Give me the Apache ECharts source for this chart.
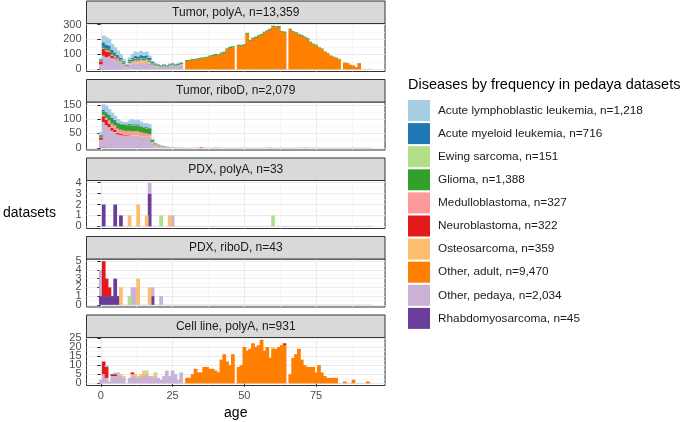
<!DOCTYPE html>
<html>
<head>
<meta charset="utf-8">
<script src="https://cdn.jsdelivr.net/npm/echarts@6/dist/echarts.min.js"></script>
<style>html,body{margin:0;padding:0;background:#fff}#c{width:685px;height:422px}</style>
</head>
<body>
<div id="c"></div>
<script>
// ---------- categories ----------
const ageBins = [0,1,2,3,4,5,6,7,8,9,10,11,12,13,14,15,16,17,18,19,20,21,22,23,24,25,26,27,28,29,
  30,31,32,33,34,35,36,37,38,39,40,41,42,43,44,45,46,47,48,49,50,51,52,53,54,55,56,57,58,59,
  60,61,62,63,64,65,66,67,68,69,70,71,72,73,74,75,76,77,78,79,80,81,82,83,84,85,86,87,88,89,
  90,91,92,93,94];
const xTicks = [0, 25, 50, 75];
const panelTitles = ['Tumor, polyA, n=13,359','Tumor, riboD, n=2,079','PDX, polyA, n=33','PDX, riboD, n=43','Cell line, polyA, n=931'];
const yIntervals = [100, 50, 1, 1, 5];
const legendLabels = ['Acute lymphoblastic leukemia, n=1,218','Acute myeloid leukemia, n=716','Ewing sarcoma, n=151',
  'Glioma, n=1,388','Medulloblastoma, n=327','Neuroblastoma, n=322','Osteosarcoma, n=359',
  'Other, adult, n=9,470','Other, pedaya, n=2,034','Rhabdomyosarcoma, n=45'];
const diseaseColors = ['#A6CEE3','#1F78B4','#B2DF8A','#33A02C','#FB9A99','#E31A1C','#FDBF6F','#FF7F00','#CAB2D6','#6A3D9A'];

// ---------- Tumor, polyA (counts per age bin, from age 0) ----------
const tumorPolyA_ALL = [8,45,50,45,40,35,30,25,15,6, 18,25,30,28,30,25,25,15,8,4, 3,2,2,2,2,2,2,2,2];
const tumorPolyA_AML = [8,30,25,22,20,15,12,10,8,4, 8,12,15,15,18,16,16,14,8,6, 4,3,3,3,3,3,3,3,3,0,
  0,0,0,0,0,0,0,0,0,0, 1,1,1,1,1,1,1,0,1,1, 1,1,1,1,1,1,1,1,1,1, 1,1,1,1,1,0,1,1,1,1, 1,1,1,1,1,1];
const tumorPolyA_EW  = [0,0,0,0,0,0,0,1,1,1, 2,2,3,3,3,3,3,3,2,2, 1,1,1,1,1,1,0,0,0];
const tumorPolyA_GLI = [4,10,12,12,12,10,10,10,8,5, 8,10,10,10,10,10,10,10,8,6, 6,5,6,5,6,6,6,6,6,0,
  6,6,6,6,6,6,6,6,6,6, 6,6,6,6,6,6,6,0,6,6, 6,6,6,6,6,6,6,6,6,6, 6,6,6,6,6,0,5,5,5,5,
  5,5,5,5,5,5,3,3,3,3, 3,3,3,3,0,1,1,1,1,1, 1];
const tumorPolyA_MED = [2,5,8,10,8,8,7,6,5,3, 5,6,6,5,5,4,4,3,2,1, 1,1,1,0,1,1,0,1,1];
const tumorPolyA_NEU = [20,45,38,25,15,8,5,3,2,1, 1,1,1,1,1];
const tumorPolyA_OST = [0,0,0,0,0,1,2,2,3,3, 5,8,10,12,14,14,12,10,6,4, 3,2,2,2,2,2,1,1,1];
const tumorPolyA_ADU = [0,0,0,0,0,0,0,0,0,0, 0,0,0,0,0,0,0,0,0,0, 0,0,0,0,0,0,0,0,0,0,
  56,58,62,64,68,72,74,78,86,90, 96,93,105,111,133,143,148,0,158,155,
  161,237,188,205,211,221,229,245,255,265, 285,281,283,248,245,0,266,249,242,232,
  224,214,204,179,166,159,147,137,117,107, 89,82,75,67,0,44,41,29,24,14, 41];
const tumorPolyA_OPD = [32,90,81,89,74,70,58,45,27,13, 33,39,44,40,44,42,49,37,24,20, 18,15,21,16,23,28,24,27,34];
const tumorPolyA_RHB = [1,1,1,1,1,1,1,1];

// ---------- Tumor, riboD ----------
const tumorRiboD_ALL = [10,20,22,20,18,15,12,10,8,8, 12,18,14,16,14,12,14,12,4,2, 1,1];
const tumorRiboD_AML = [2,5,5,4,4,3,3,3,2,2, 3,3,3,3,3,3,3,3,1,1];
const tumorRiboD_EW  = [0,0,0,0,0,0,0,0,0,1, 1,1,1,1,1,1,1,1];
const tumorRiboD_GLI = [5,12,14,15,16,16,18,18,20,20, 20,20,20,20,20,18,18,18,6,3, 2,2,1,1];
const tumorRiboD_MED = [2,5,8,12,14,15,15,15,14,14, 13,12,12,12,10,10,9,8,4,2, 2,1,1,0,0,1];
const tumorRiboD_NEU = [8,20,18,12,10,8,5,4,3,2, 2,1,1,1,1,1];
const tumorRiboD_OST = [0,0,0,0,0,1,1,1,2,2, 3,3,3,3,3,3,3,3,2,1, 1,1];
const tumorRiboD_ADU = [0,0,0,0,0,0,0,0,0,0, 0,0,0,0,0,0,0,0,0,0, 0,0,0,0,0,0,0,0,0,0,
  0,0,0,0,0,3,0,0,0,0, 1,0,0,0,0,0,0,0,0,0, 0,0,0,0,0,0,0,0,0,1, 0,0,0,0,0,0,0,0,0,0, 0,1];
const tumorRiboD_OPD = [27,88,78,71,59,53,45,42,40,40, 40,41,41,41,39,37,37,36,15,9, 6,4,4,3,3,1,1,1,1];
const tumorRiboD_RHB = [1,2,1,1,1,1,1,1,1,1, 1,1,1,1,1,1,1,1];

// ---------- PDX, polyA ----------
const pdxPolyA_ALL = [];
const pdxPolyA_AML = [];
const pdxPolyA_EW  = [0,0,0,0,0,0,0,0,0,0, 0,0,0,0,0,0,0,0,0,0, 0,1,0,0,0,0,0,0,0,0,
  0,0,0,0,0,0,0,0,0,0, 0,0,0,0,0,0,0,0,0,0, 0,0,0,0,0,0,0,0,0,0, 1];
const pdxPolyA_GLI = [];
const pdxPolyA_MED = [];
const pdxPolyA_NEU = [];
const pdxPolyA_OST = [0,0,0,0,0,0,0,0,0,0, 1,0,0,2,0,0,1,0,0,0, 0,0,0,0,1];
const pdxPolyA_ADU = [];
const pdxPolyA_OPD = [0,0,0,0,0,0,0,0,0,0, 0,0,0,0,0,0,0,1,0,0, 0,0,0,0,0,1];
const pdxPolyA_RHB = [0,2,0,0,0,2,0,1,0,0, 0,0,0,0,0,0,0,3];

// ---------- PDX, riboD ----------
const pdxRiboD_ALL = [];
const pdxRiboD_AML = [];
const pdxRiboD_EW  = [0,0,0,0,0,0,0,0,0,0, 1];
const pdxRiboD_GLI = [];
const pdxRiboD_MED = [];
const pdxRiboD_NEU = [0,4,2,1];
const pdxRiboD_OST = [0,0,0,0,0,0,0,2,0,0, 0,0,0,3,0,0,0,2];
const pdxRiboD_ADU = [];
const pdxRiboD_OPD = [3,0,0,0,0,0,0,0,0,0, 0,2,2,0,0,0,0,0,1,0, 0,1];
const pdxRiboD_RHB = [1,1,1,1,1,3,1,0,0,0, 0,0,0,0,0,0,0,0,1];

// ---------- Cell line, polyA ----------
const cellPolyA_ALL = [0,0,1,0,0,1,1];
const cellPolyA_AML = [];
const cellPolyA_EW  = [0,0,0,0,0,0,0,0,0,0, 0,0,0,0,0,1,1,0,0,1, 0,0,0,0,0,0,0,0,0,0,
  0,0,0,0,0,0,0,0,0,0, 0,0,0,0,0,0,0,0,0,0, 0,0,0,0,0,0,0,0,0,0, 1];
const cellPolyA_GLI = [];
const cellPolyA_MED = [];
const cellPolyA_NEU = [0,7,6,0,1,1,0,0,0,0, 0,1,0,0,0,0,0,0,0,0, 0,0,0,0,0,0,0,0,0,0,
  0,0,0,0,0,0,0,0,0,0, 0,0,0,0,0,0,0,0,0,0, 0,0,0,0,0,0,0,0,0,0, 0,0,0,0,1];
const cellPolyA_OST = [0,0,0,0,0,0,0,1,1,0, 0,1,1,1,1,2,1,0,1,1];
const cellPolyA_ADU = [0,0,0,0,0,0,0,0,0,0, 0,0,0,0,0,0,0,0,0,0, 0,0,0,0,0,0,0,0,0,0,
  3,3,5,8,6,6,9,9,8,8, 7,6,13,16,12,10,16,0,9,10, 20,18,19,22,20,21,24,18,20,14,
  19,19,20,21,21,0,5,14,16,19, 13,10,9,9,9,6,10,6,4,3, 3,3,3,0,0,1,0,0,2,0, 0,0,0,1];
const cellPolyA_OPD = [2,5,3,1,4,4,5,4,3,0, 3,4,4,3,4,4,5,4,3,4, 3,2,4,7,4,7,5,2,6,0];
const cellPolyA_RHB = [];

// ---------- build ----------
const panelData = [
  [tumorPolyA_ALL,tumorPolyA_AML,tumorPolyA_EW,tumorPolyA_GLI,tumorPolyA_MED,tumorPolyA_NEU,tumorPolyA_OST,tumorPolyA_ADU,tumorPolyA_OPD,tumorPolyA_RHB],
  [tumorRiboD_ALL,tumorRiboD_AML,tumorRiboD_EW,tumorRiboD_GLI,tumorRiboD_MED,tumorRiboD_NEU,tumorRiboD_OST,tumorRiboD_ADU,tumorRiboD_OPD,tumorRiboD_RHB],
  [pdxPolyA_ALL,pdxPolyA_AML,pdxPolyA_EW,pdxPolyA_GLI,pdxPolyA_MED,pdxPolyA_NEU,pdxPolyA_OST,pdxPolyA_ADU,pdxPolyA_OPD,pdxPolyA_RHB],
  [pdxRiboD_ALL,pdxRiboD_AML,pdxRiboD_EW,pdxRiboD_GLI,pdxRiboD_MED,pdxRiboD_NEU,pdxRiboD_OST,pdxRiboD_ADU,pdxRiboD_OPD,pdxRiboD_RHB],
  [cellPolyA_ALL,cellPolyA_AML,cellPolyA_EW,cellPolyA_GLI,cellPolyA_MED,cellPolyA_NEU,cellPolyA_OST,cellPolyA_ADU,cellPolyA_OPD,cellPolyA_RHB]
];

const FONT = '"Liberation Sans", Arial, Helvetica, sans-serif';
const pad = arr => ageBins.map((a, i) => (arr[i] || 0));

const L = { gridLeft: 86.5, gridWidth: 298.5, stripTop0: 1, step: 78.5, stripH: 22.5, gridH: 48, xMin: -5, xMax: 99 };
const binPx = L.gridWidth / (L.xMax - L.xMin); // one age bin in pixels

const grids = [], xAxes = [], yAxes = [], series = [], graphics = [];

const yLabelStyle = { show: true, margin: 5, fontSize: 11, color: '#4D4D4D', fontFamily: FONT,
  showMinLabel: true, showMaxLabel: true, hideOverlap: false };

panelData.forEach((arrs, k) => {
  const padded = arrs.map(pad);
  const totals = ageBins.map((a, i) => padded.reduce((s, v) => s + v[i], 0));
  const ymax = Math.max.apply(null, totals);
  const iv = yIntervals[k];
  const yTicks = [];
  for (let t = 0; t <= ymax * 1.05 + 1e-9; t += iv) yTicks.push(t);
  const evenTicks = yTicks.filter((t, i) => i % 2 === 0);
  const oddTicks = yTicks.filter((t, i) => i % 2 === 1);
  const stripTop = L.stripTop0 + L.step * k;
  const gTop = stripTop + L.stripH;
  const yMin = -0.05 * ymax, yMax = 1.05 * ymax;
  const fmt = v => (Math.abs(v / iv - Math.round(v / iv)) < 1e-6 ? String(Math.round(v)) : '');

  grids.push({ left: L.gridLeft, top: gTop, width: L.gridWidth, height: L.gridH,
    show: true, backgroundColor: '#ffffff', borderColor: '#333333', borderWidth: 1, containLabel: false });

  const isBottom = k === panelData.length - 1;
  xAxes.push({
    type: 'value', gridIndex: k, min: L.xMin, max: L.xMax, minInterval: 25, maxInterval: 25, splitNumber: 4,
    axisLine: { show: false },
    axisTick: { show: isBottom, length: 3.5, customValues: xTicks, lineStyle: { color: '#333333', width: 1 } },
    axisLabel: { show: isBottom, customValues: xTicks, margin: 5, fontSize: 11, color: '#4D4D4D', fontFamily: FONT,
      showMinLabel: true, showMaxLabel: true, hideOverlap: false,
      formatter: v => (xTicks.indexOf(v) >= 0 ? String(v) : '') },
    splitLine: { show: true, lineStyle: { color: '#EBEBEB', width: 1 } },
    minorTick: { show: false, splitNumber: 2 },
    minorSplitLine: { show: true, lineStyle: { color: '#F2F2F2', width: 0.6 } }
  });
  // main y axis: ticks, grid lines, labels at even tick positions
  yAxes.push({
    type: 'value', gridIndex: k, min: yMin, max: yMax, minInterval: iv, maxInterval: iv, splitNumber: 4,
    axisLine: { show: false },
    axisTick: { show: true, length: 3.5, customValues: yTicks, lineStyle: { color: '#333333', width: 1 } },
    axisLabel: Object.assign({}, yLabelStyle, { customValues: evenTicks, formatter: fmt }),
    splitLine: { show: true, lineStyle: { color: '#EBEBEB', width: 1 } },
    minorTick: { show: false, splitNumber: 2 },
    minorSplitLine: { show: true, lineStyle: { color: '#F2F2F2', width: 0.6 } }
  });
  // companion y axis (same scale) carrying the odd tick labels so none get dropped
  yAxes.push({
    type: 'value', gridIndex: k, min: yMin, max: yMax, minInterval: iv, maxInterval: iv, splitNumber: 4,
    position: 'left', offset: 0,
    axisLine: { show: false }, axisTick: { show: false },
    axisLabel: Object.assign({}, yLabelStyle, { customValues: oddTicks.length ? oddTicks : [yMax * 2], formatter: fmt }),
    splitLine: { show: false }, minorSplitLine: { show: false }
  });

  // faint zero-height baseline across the binned age range
  series.push({ type: 'line', xAxisIndex: k, yAxisIndex: 2 * k, silent: true, symbol: 'none', z: 1,
    lineStyle: { color: '#DCD3DB', width: 0.8 },
    data: [[ageBins[0] - 0.5, 0], [ageBins[ageBins.length - 1] + 0.5, 0]] });

  for (let d = padded.length - 1; d >= 0; d--) {
    series.push({
      type: 'bar', name: legendLabels[d], xAxisIndex: k, yAxisIndex: 2 * k, stack: 'p' + k,
      barWidth: binPx * 1.3, barGap: 0, barCategoryGap: 0, silent: true,
      itemStyle: { color: diseaseColors[d], borderWidth: 0, borderRadius: 0 },
      // column 0 = count (stacked, y), column 1 = age bin (x)
      encode: { x: 1, y: 0 },
      data: ageBins.map((a, i) => [padded[d][i], a])
    });
  }

  graphics.push({ type: 'rect', silent: true, z: 10,
    shape: { x: L.gridLeft, y: stripTop, width: L.gridWidth, height: L.stripH },
    style: { fill: '#D9D9D9', stroke: '#333333', lineWidth: 1 } });
  graphics.push({ type: 'text', silent: true, z: 11,
    x: L.gridLeft + L.gridWidth / 2, y: stripTop + L.stripH / 2,
    style: { text: panelTitles[k], fill: '#1A1A1A', font: '12px ' + FONT,
      textAlign: 'center', textVerticalAlign: 'middle', align: 'center', verticalAlign: 'middle' } });
});

graphics.push({ type: 'text', silent: true, x: 3, y: 213,
  style: { text: 'datasets', fill: '#000000', font: '14px ' + FONT, textAlign: 'left', textVerticalAlign: 'middle', align: 'left', verticalAlign: 'middle' } });
graphics.push({ type: 'text', silent: true, x: L.gridLeft + L.gridWidth / 2, y: 413,
  style: { text: 'age', fill: '#000000', font: '14px ' + FONT, textAlign: 'center', textVerticalAlign: 'middle', align: 'center', verticalAlign: 'middle' } });
graphics.push({ type: 'text', silent: true, x: 408, y: 85,
  style: { text: 'Diseases by frequency in pedaya datasets', fill: '#000000', font: '14.5px ' + FONT, textAlign: 'left', textVerticalAlign: 'middle', align: 'left', verticalAlign: 'middle' } });

const chart = echarts.init(document.getElementById('c'), null, { renderer: 'canvas' });
chart.setOption({
  animation: false,
  backgroundColor: '#ffffff',
  textStyle: { fontFamily: FONT },
  grid: grids,
  xAxis: xAxes,
  yAxis: yAxes,
  legend: {
    data: legendLabels, orient: 'vertical', left: 408, top: 100, padding: 0,
    itemWidth: 22, itemHeight: 21, itemGap: 2.1, icon: 'rect', selectedMode: false,
    textStyle: { fontSize: 11.8, color: '#1A1A1A', fontFamily: FONT, padding: [0, 0, 0, 3] }
  },
  graphic: graphics,
  series: series
});
</script>
</body>
</html>
